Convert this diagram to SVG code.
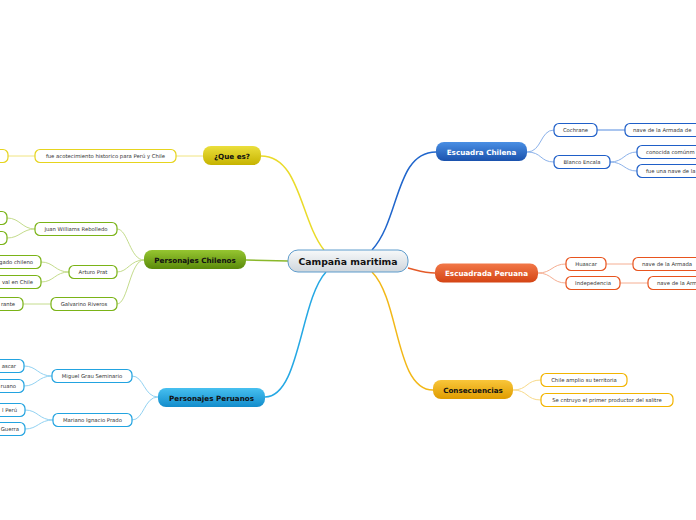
<svg xmlns="http://www.w3.org/2000/svg" width="696" height="520" viewBox="0 0 696 520">
<defs>
<linearGradient id="gC" x1="0" y1="0" x2="0" y2="1"><stop offset="0" stop-color="#f7f9fa"/><stop offset="1" stop-color="#cfd6dc"/></linearGradient>
<linearGradient id="gY" x1="0" y1="0" x2="0" y2="1"><stop offset="0" stop-color="#ebdf3c"/><stop offset="1" stop-color="#c6b300"/></linearGradient>
<linearGradient id="gG" x1="0" y1="0" x2="0" y2="1"><stop offset="0" stop-color="#96c631"/><stop offset="1" stop-color="#5a8a0a"/></linearGradient>
<linearGradient id="gL" x1="0" y1="0" x2="0" y2="1"><stop offset="0" stop-color="#47c0f0"/><stop offset="1" stop-color="#128ccb"/></linearGradient>
<linearGradient id="gB" x1="0" y1="0" x2="0" y2="1"><stop offset="0" stop-color="#4a8fe4"/><stop offset="1" stop-color="#1a52ad"/></linearGradient>
<linearGradient id="gR" x1="0" y1="0" x2="0" y2="1"><stop offset="0" stop-color="#f27848"/><stop offset="1" stop-color="#d44414"/></linearGradient>
<linearGradient id="gO" x1="0" y1="0" x2="0" y2="1"><stop offset="0" stop-color="#f9c63a"/><stop offset="1" stop-color="#df9c00"/></linearGradient>
</defs>
<style>
text{font-family:"DejaVu Sans","Verdana",sans-serif;}
.m{font-size:7.2px;font-weight:bold;text-anchor:middle;}
.s{font-size:5.3px;fill:#333;text-anchor:middle;}
.se{font-size:5.3px;fill:#333;text-anchor:end;}
.ss{font-size:5.3px;fill:#333;text-anchor:start;}
.sub{fill:#fff;stroke-width:1.2;}
</style>
<rect width="696" height="520" fill="#fff"/>
<g id="connectors" fill="none">
<path d="M324 250 C300 220 300 156 261 156" stroke="#eadb2a" stroke-width="1.5"/>
<path d="M372 250 C400 220 395 152 436 152" stroke="#2066cc" stroke-width="1.5"/>
<path d="M288 261 L246 260" stroke="#8ab82a" stroke-width="1.5"/>
<path d="M326 272 C300 300 300 397 265 397" stroke="#25a8e4" stroke-width="1.5"/>
<path d="M408 268 C420 271 425 273 435 273" stroke="#e45a28" stroke-width="1.5"/>
<path d="M372 272 C400 300 395 390 433 390" stroke="#f2b818" stroke-width="1.5"/>
<path d="M203 156 L176 156" stroke="#f0e480" stroke-width="1"/>
<path d="M35 156 L8 156" stroke="#f0e480" stroke-width="1"/>
<path d="M144 260 C130 260 128 229 117 229" stroke="#c4dc8c" stroke-width="1"/>
<path d="M144 260 C130 260 128 272 117 272" stroke="#c4dc8c" stroke-width="1"/>
<path d="M144 260 C130 260 128 304 117 304" stroke="#c4dc8c" stroke-width="1"/>
<path d="M35 229 C22 229 20 218 7 218" stroke="#c4dc8c" stroke-width="1"/>
<path d="M35 229 C22 229 20 238 7 238" stroke="#c4dc8c" stroke-width="1"/>
<path d="M69 272 C55 272 54 262 41 262" stroke="#c4dc8c" stroke-width="1"/>
<path d="M69 272 C55 272 54 282 41 282" stroke="#c4dc8c" stroke-width="1"/>
<path d="M51 304 L23 304" stroke="#c4dc8c" stroke-width="1"/>
<path d="M158 397 C144 397 144 376 132 376" stroke="#92d2f2" stroke-width="1"/>
<path d="M158 397 C144 397 144 420 132 420" stroke="#92d2f2" stroke-width="1"/>
<path d="M52 376 C38 376 37 366 24 366" stroke="#92d2f2" stroke-width="1"/>
<path d="M52 376 C38 376 37 386 24 386" stroke="#92d2f2" stroke-width="1"/>
<path d="M53 420 C39 420 38 410 25 410" stroke="#92d2f2" stroke-width="1"/>
<path d="M53 420 C39 420 38 429 25 429" stroke="#92d2f2" stroke-width="1"/>
<path d="M527 152 C542 152 540 130 554 130" stroke="#8cb2ea" stroke-width="1"/>
<path d="M527 152 C542 152 540 162 554 162" stroke="#8cb2ea" stroke-width="1"/>
<path d="M597 130 L625 130" stroke="#8cb2ea" stroke-width="1.5"/>
<path d="M610 162 C624 162 624 152 637 152" stroke="#8cb2ea" stroke-width="1"/>
<path d="M610 162 C624 162 624 171 637 171" stroke="#8cb2ea" stroke-width="1"/>
<path d="M538 273 C552 273 552 264 566 264" stroke="#f5ae92" stroke-width="1"/>
<path d="M538 273 C552 273 552 283 566 283" stroke="#f5ae92" stroke-width="1"/>
<path d="M606 264 L633 264" stroke="#f5ae92" stroke-width="1"/>
<path d="M620 283 L648 283" stroke="#f5ae92" stroke-width="1"/>
<path d="M513 390 C528 390 526 380 541 380" stroke="#f8da8a" stroke-width="1"/>
<path d="M513 390 C528 390 526 400 541 400" stroke="#f8da8a" stroke-width="1"/>
</g>
<g id="central">
<rect x="288" y="250" width="120" height="22" rx="10" fill="url(#gC)" stroke="#5f9ccc" stroke-width="1"/>
<text x="348" y="264.5" class="m" style="font-size:9.3px" fill="#111">Campaña maritima</text>
</g>
<g id="que-es">
<rect x="203" y="146" width="58" height="19" rx="8" fill="url(#gY)"/>
<text x="232" y="158.5" class="m" fill="#111">¿Que es?</text>
</g>
<g id="que-es-1">
<rect x="35" y="149.5" width="141" height="13" rx="5" class="sub" stroke="#e6d41e"/>
<text x="105.5" y="158.2" class="s">fue acotecimiento historico para Perú y Chile</text>
</g>
<g id="que-es-1-1">
<rect x="-20" y="149.5" width="28" height="13" rx="5" class="sub" stroke="#e6d41e"/>
</g>
<g id="chilenos">
<rect x="144" y="250" width="102" height="19" rx="8" fill="url(#gG)"/>
<text x="195" y="262.5" class="m" fill="#111">Personajes Chilenos</text>
</g>
<g id="williams">
<rect x="35" y="222.5" width="82" height="13" rx="5" class="sub" stroke="#7ab317"/>
<text x="76" y="231.2" class="s">Juan Williams Rebolledo</text>
</g>
<g id="williams-1"><rect x="-20" y="211.5" width="27" height="13" rx="5" class="sub" stroke="#7ab317"/></g>
<g id="williams-2"><rect x="-20" y="231.5" width="27" height="13" rx="5" class="sub" stroke="#7ab317"/></g>
<g id="prat">
<rect x="69" y="265.5" width="48" height="13" rx="5" class="sub" stroke="#7ab317"/>
<text x="93" y="274.2" class="s">Arturo Prat</text>
</g>
<g id="prat-1"><rect x="-30" y="255.5" width="71" height="13" rx="5" class="sub" stroke="#7ab317"/><text x="33" y="264.2" class="se">gado chileno</text></g>
<g id="prat-2"><rect x="-30" y="275.5" width="71" height="13" rx="5" class="sub" stroke="#7ab317"/><text x="33" y="284.2" class="se">val en Chile</text></g>
<g id="riveros">
<rect x="51" y="297.5" width="66" height="13" rx="5" class="sub" stroke="#7ab317"/>
<text x="84" y="306.2" class="s">Galvarino Riveros</text>
</g>
<g id="riveros-1"><rect x="-30" y="297.5" width="53" height="13" rx="5" class="sub" stroke="#7ab317"/><text x="15" y="306.2" class="se">rante</text></g>
<g id="peruanos">
<rect x="158" y="388" width="107" height="19" rx="8" fill="url(#gL)"/>
<text x="211.5" y="400.5" class="m" fill="#111">Personajes Peruanos</text>
</g>
<g id="grau">
<rect x="52" y="369.5" width="80" height="13" rx="5" class="sub" stroke="#22a3e0"/>
<text x="92" y="378.2" class="s">Miguel Grau Seminario</text>
</g>
<g id="grau-1"><rect x="-30" y="359.5" width="54" height="13" rx="5" class="sub" stroke="#22a3e0"/><text x="16" y="368.2" class="se">ascar</text></g>
<g id="grau-2"><rect x="-30" y="379.5" width="54" height="13" rx="5" class="sub" stroke="#22a3e0"/><text x="16" y="388.2" class="se">ruano</text></g>
<g id="prado">
<rect x="53" y="413.5" width="79" height="13" rx="5" class="sub" stroke="#22a3e0"/>
<text x="92.5" y="422.2" class="s">Mariano Ignacio Prado</text>
</g>
<g id="prado-1"><rect x="-30" y="403.5" width="55" height="13" rx="5" class="sub" stroke="#22a3e0"/><text x="17" y="412.2" class="se">l Perú</text></g>
<g id="prado-2"><rect x="-30" y="422.5" width="55" height="13" rx="5" class="sub" stroke="#22a3e0"/><text x="19" y="431.2" class="se">Guerra</text></g>
<g id="esc-chilena">
<rect x="436" y="142" width="91" height="19" rx="8" fill="url(#gB)"/>
<text x="481.5" y="154.5" class="m" fill="#fff">Escuadra Chilena</text>
</g>
<g id="cochrane">
<rect x="554" y="123.5" width="43" height="13" rx="5" class="sub" stroke="#1f5fc8"/>
<text x="575.5" y="132.2" class="s">Cochrane</text>
</g>
<g id="cochrane-1"><rect x="625" y="123.5" width="90" height="13" rx="5" class="sub" stroke="#1f5fc8"/><text x="633" y="132.2" class="ss">nave de la Armada de</text></g>
<g id="blanco">
<rect x="554" y="155.5" width="56" height="13" rx="5" class="sub" stroke="#1f5fc8"/>
<text x="582" y="164.2" class="s">Blanco Encala</text>
</g>
<g id="blanco-1"><rect x="637" y="145.5" width="80" height="13" rx="5" class="sub" stroke="#1f5fc8"/><text x="646" y="154.2" class="ss">conocida comúnm</text></g>
<g id="blanco-2"><rect x="637" y="164.5" width="80" height="13" rx="5" class="sub" stroke="#1f5fc8"/><text x="646" y="173.2" class="ss">fue una nave de la</text></g>
<g id="esc-peruana">
<rect x="435" y="263.5" width="103" height="19" rx="8" fill="url(#gR)"/>
<text x="486.5" y="276" class="m" fill="#fff">Escuadrada Peruana</text>
</g>
<g id="huascar">
<rect x="566" y="257.5" width="40" height="13" rx="5" class="sub" stroke="#e8541e"/>
<text x="586" y="266.2" class="s">Huascar</text>
</g>
<g id="huascar-1"><rect x="633" y="257.5" width="80" height="13" rx="5" class="sub" stroke="#e8541e"/><text x="642" y="266.2" class="ss">nave de la Armada</text></g>
<g id="independencia">
<rect x="566" y="276.5" width="54" height="13" rx="5" class="sub" stroke="#e8541e"/>
<text x="593" y="285.2" class="s">Indepedencia</text>
</g>
<g id="independencia-1"><rect x="648" y="276.5" width="70" height="13" rx="5" class="sub" stroke="#e8541e"/><text x="657" y="285.2" class="ss">nave de la Arm</text></g>
<g id="consecuencias">
<rect x="433" y="380" width="80" height="19" rx="8" fill="url(#gO)"/>
<text x="473" y="392.5" class="m" fill="#111">Consecuencias</text>
</g>
<g id="cons-1">
<rect x="541" y="373.5" width="86" height="13" rx="5" class="sub" stroke="#f2b400"/>
<text x="584" y="382.2" class="s">Chile amplio su territoria</text>
</g>
<g id="cons-2">
<rect x="541" y="393.5" width="132" height="13" rx="5" class="sub" stroke="#f2b400"/>
<text x="607" y="402.2" class="s">Se cntruyo el primer productor del salitre</text>
</g>
</svg>
